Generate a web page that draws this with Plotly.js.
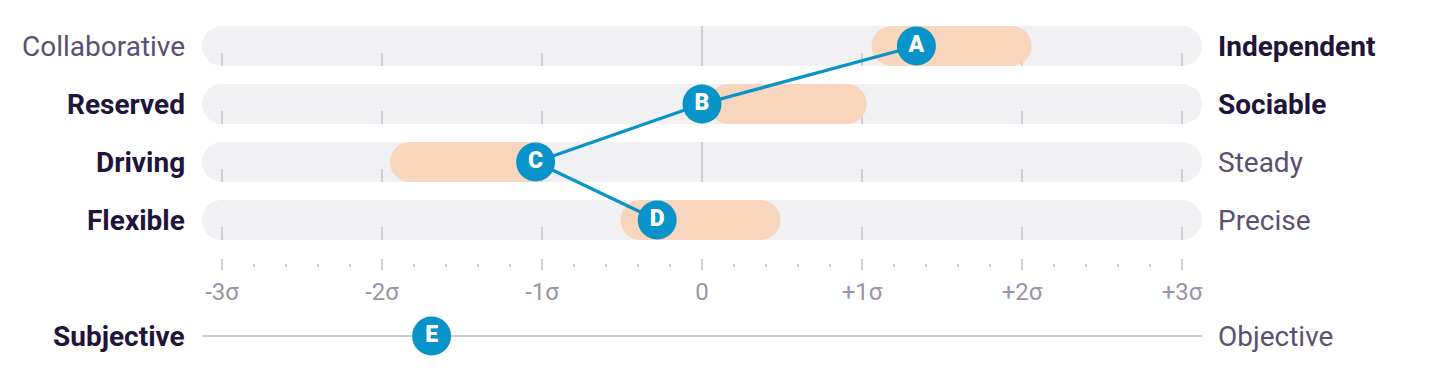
<!DOCTYPE html>
<html>
<head>
<meta charset="utf-8">
<script src="https://cdn.plot.ly/plotly-3.0.1.min.js"></script>
<style>
  html, body { margin: 0; padding: 0; background: #ffffff; }
  #chart { width: 1434px; height: 382px; }
</style>
</head>
<body>
<div id="chart"></div>
<script>
// ---------------- data ----------------
const ROW_POS = [0, 1, 2, 3];
const LEFT_LABELS = ['Collaborative', 'Reserved', 'Driving', 'Flexible'];
const RIGHT_LABELS = ['Independent', 'Sociable', 'Steady', 'Precise'];
const LEFT_BOLD = [false, true, true, true];
const RIGHT_BOLD = [true, true, false, false];
const BAND_LOW = [1.06, 0.04, -1.95, -0.51];
const BAND_HIGH = [2.06, 1.03, -0.93, 0.49];
const MARKER_LETTERS = ['A', 'B', 'C', 'D'];
const MARKER_X = [1.34, 0.0, -1.04, -0.28];
const E_ROW = 5;
const E_LETTER = 'E';
const E_X = -1.69;
const E_LEFT = 'Subjective';
const E_RIGHT = 'Objective';
const E_LEFT_BOLD = true;
const E_RIGHT_BOLD = false;
const TICK_VALS = [-3, -2, -1, 0, 1, 2, 3];
const TICK_TEXT = ['-3σ', '-2σ', '-1σ', '0', '+1σ', '+2σ', '+3σ'];
const MINOR_STEP = 0.2;

// ---------------- style ----------------
const W = 1434, H = 382;
const ML = 202, MR = 232, MT = 0, MB = 12;
const PLOT_W = W - ML - MR, PLOT_H = H - MT - MB;
const X_RANGE = [-3.125, 3.125];
const ROW_PX = 58;            // pixels per row unit
const TOP_PX = 46;            // pixel of row 0
const Y_TOP = -TOP_PX / ROW_PX;
const Y_BOT = Y_TOP + PLOT_H / ROW_PX;
const HALF = 20 / ROW_PX;     // half bar thickness in row units
const RX = 20 / PLOT_W;       // cap radius in paper units
const K = 0.5523;

const BLUE = '#0893c9';
const ORANGE = '#f8d5bd';
const TRACK = '#f1f1f4';
const TICK = '#cfcdd6';
const DARK = '#21143a';
const MID = '#5b5072';
const TICKLAB = '#9a93a9';
const FONT = 'Roboto, "Open Sans", sans-serif';

// ---------------- shapes ----------------
const shapes = [];
function pillPath(r) {
  const t = r - HALF, b = r + HALF;
  const x0 = RX, x1 = 1 - RX;
  return `M ${x0},${t} L ${x1},${t} ` +
    `C ${x1 + RX * K},${t} 1,${r - HALF * K} 1,${r} ` +
    `C 1,${r + HALF * K} ${x1 + RX * K},${b} ${x1},${b} ` +
    `L ${x0},${b} ` +
    `C ${x0 - RX * K},${b} 0,${r + HALF * K} 0,${r} ` +
    `C 0,${r - HALF * K} ${x0 - RX * K},${t} ${x0},${t} Z`;
}
ROW_POS.forEach(r => {
  shapes.push({type: 'path', xref: 'paper', yref: 'y', layer: 'below',
    path: pillPath(r), fillcolor: TRACK, line: {width: 0}});
});
ROW_POS.forEach(r => {
  TICK_VALS.forEach(v => {
    shapes.push({type: 'line', xref: 'x', yref: 'y', layer: 'below',
      x0: v, x1: v,
      y0: v === 0 ? r - HALF : r + 7 / ROW_PX, y1: r + HALF,
      line: {color: TICK, width: 2}});
  });
});
shapes.push({type: 'line', xref: 'paper', yref: 'y', layer: 'below',
  x0: 0, x1: 1, y0: E_ROW, y1: E_ROW, line: {color: TICK, width: 2}});

// ---------------- traces ----------------
const traces = [
  {type: 'bar', orientation: 'h', y: ROW_POS, base: BAND_LOW,
   x: BAND_LOW.map((lo, i) => BAND_HIGH[i] - lo),
   width: ROW_POS.map(() => 2 * HALF),
   marker: {color: ORANGE, line: {width: 0}, cornerradius: '50%'},
   hoverinfo: 'skip', showlegend: false},
  {type: 'scatter', mode: 'lines', x: MARKER_X, y: ROW_POS,
   line: {color: BLUE, width: 3.2}, hoverinfo: 'skip', showlegend: false},
  {type: 'scatter', mode: 'markers+text',
   x: MARKER_X.concat([E_X]), y: ROW_POS.concat([E_ROW]),
   text: MARKER_LETTERS.concat([E_LETTER]), textposition: 'middle center',
   textfont: {family: FONT, size: 23, color: '#ffffff', weight: 900},
   marker: {size: 39, color: BLUE, line: {width: 0}},
   hoverinfo: 'skip', showlegend: false},
  {type: 'scatter', mode: 'markers', x: [0], y: [null], xaxis: 'x2',
   hoverinfo: 'skip', showlegend: false}
];

// ---------------- annotations ----------------
const annotations = [];
const leftAll = LEFT_LABELS.concat([E_LEFT]);
const rightAll = RIGHT_LABELS.concat([E_RIGHT]);
const leftBold = LEFT_BOLD.concat([E_LEFT_BOLD]);
const rightBold = RIGHT_BOLD.concat([E_RIGHT_BOLD]);
const allRows = ROW_POS.concat([E_ROW]);
allRows.forEach((r, i) => {
  annotations.push({xref: 'paper', yref: 'y', x: 0, y: r, xanchor: 'right', yanchor: 'middle',
    xshift: -15, yshift: 0, showarrow: false, text: leftAll[i],
    font: {family: FONT, size: 28, color: leftBold[i] ? DARK : MID, weight: leftBold[i] ? 700 : 400}});
  annotations.push({xref: 'paper', yref: 'y', x: 1, y: r, xanchor: 'left', yanchor: 'middle',
    xshift: 14, yshift: 0, showarrow: false, text: rightAll[i],
    font: {family: FONT, size: 28, color: rightBold[i] ? DARK : MID, weight: rightBold[i] ? 700 : 400}});
});

const layout = {
  width: W, height: H,
  margin: {l: ML, r: MR, t: MT, b: MB, pad: 0},
  paper_bgcolor: '#ffffff', plot_bgcolor: 'rgba(0,0,0,0)',
  barmode: 'overlay', showlegend: false,
  xaxis: {range: X_RANGE, anchor: 'free', position: 1 - 258 / PLOT_H,
    showgrid: false, zeroline: false, showline: false,
    tickmode: 'array', tickvals: TICK_VALS, ticktext: TICK_TEXT,
    ticks: 'outside', ticklen: 11, tickwidth: 2, tickcolor: TICK,
    tickfont: {family: FONT, size: 24, color: TICKLAB}, ticklabelstandoff: 1,
    fixedrange: true},
  xaxis2: {range: X_RANGE, overlaying: 'x', anchor: 'free', position: 1 - 262.5 / PLOT_H,
    showgrid: false, zeroline: false, showline: false, showticklabels: false,
    tick0: 0, dtick: MINOR_STEP, ticks: 'outside', ticklen: 3.5, tickwidth: 1.5, tickcolor: TICK,
    fixedrange: true},
  yaxis: {range: [Y_BOT, Y_TOP], showgrid: false, zeroline: false, showline: false,
    showticklabels: false, ticks: '', fixedrange: true},
  shapes: shapes,
  annotations: annotations
};

Plotly.newPlot('chart', traces, layout, {staticPlot: true, displayModeBar: false});
</script>
</body>
</html>
